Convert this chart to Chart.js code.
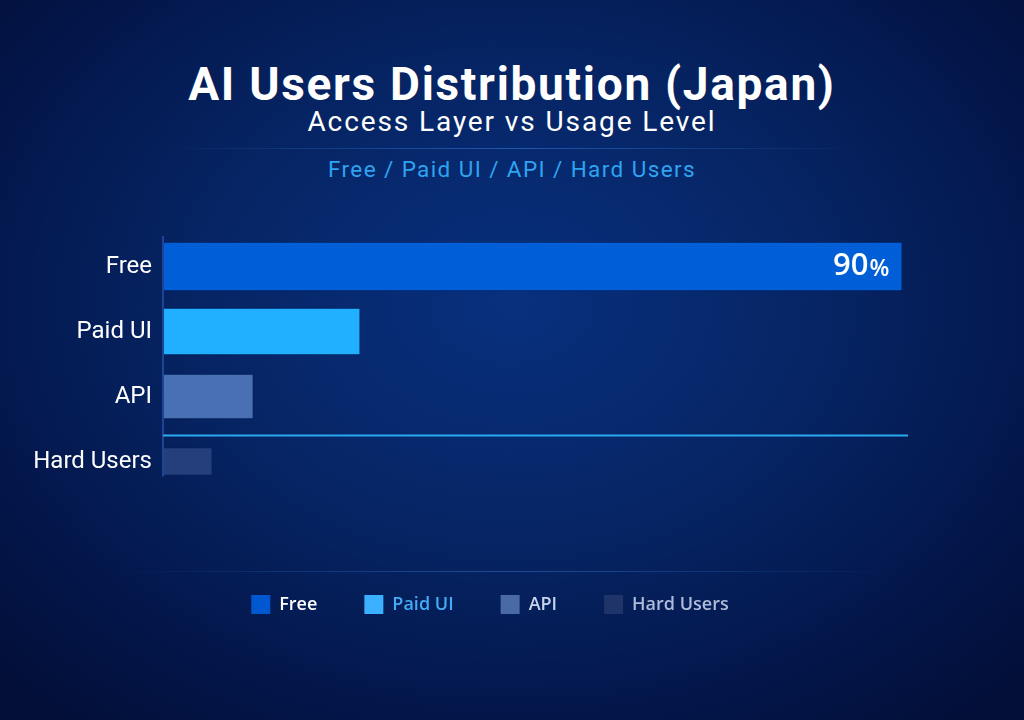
<!DOCTYPE html>
<html>
<head>
<meta charset="utf-8">
<script src="https://cdn.jsdelivr.net/npm/chart.js@4.4.1/dist/chart.umd.min.js"></script>
<style>
  html, body { margin: 0; padding: 0; }
  body {
    width: 1024px; height: 720px; overflow: hidden; position: relative;
    background: radial-gradient(ellipse 70% 75% at 50% 42%, #08307e 0%, #062463 45%, #03164a 78%, #020e37 100%);
    font-family: Roboto, "Noto Sans", sans-serif;
  }
  .hdr { position: absolute; left: 0; width: 1024px; text-align: center; white-space: nowrap; }
  #title { top: 58px; font-size: 46px; font-weight: 700; color: #fff; line-height: 52px; letter-spacing: 1.7px; }
  #sub { top: 106px; font-size: 28px; color: #fff; line-height: 32px; letter-spacing: 1.9px; }
  #tag { top: 155px; font-size: 22.5px; color: #2ea4f0; line-height: 28px; letter-spacing: 1.4px; }
  .sep { position: absolute; height: 1px; }
  #sep1 { top: 148px; left: 160px; width: 704px; background: linear-gradient(90deg, rgba(40,110,200,0), rgba(50,130,220,0.55), rgba(40,110,200,0)); }
  #sep2 { top: 571px; left: 110px; width: 790px; background: linear-gradient(90deg, rgba(40,110,200,0), rgba(50,130,220,0.45), rgba(40,110,200,0)); }
  canvas { position: absolute; left: 0; top: 0; }
</style>
</head>
<body>
<div class="hdr" id="title">AI Users Distribution (Japan)</div>
<div class="hdr" id="sub">Access Layer vs Usage Level</div>
<div class="sep" id="sep1"></div>
<div class="hdr" id="tag">Free / Paid UI / API / Hard Users</div>
<div class="sep" id="sep2"></div>
<canvas id="grafico" width="1024" height="720"></canvas>
<script>
const categorias = ['Free', 'Paid UI', 'API', 'Hard Users'];
const participacao = [90, 24, 11, 6];
const coresBarra = ['#005ed6', '#20b0ff', '#4870b2', '#243f7c'];
const coresLegenda = ['#0058d0', '#3ab0ff', '#4a6aa6', '#1f3468'];
const coresTextoLegenda = ['#ffffff', '#45aaf5', '#c8d4ee', '#aebbd9'];
const espessuras = [49, 47, 45, 28];

// linha separando "Hard Users", eixo vertical e rótulo 90%
const extras = {
  id: 'extras',
  afterLayout(chart) {
    // legenda um pouco à direita, como no original
    chart.legend.left += 36;
    chart.legend.right += 36;
  },
  afterDatasetsDraw(chart) {
    const { ctx, chartArea } = chart;
    const api = chart.getDatasetMeta(2).data[2];
    const hard = chart.getDatasetMeta(3).data[3];
    const free = chart.getDatasetMeta(0).data[0];
    ctx.save();
    // eixo
    ctx.strokeStyle = '#1c4597';
    ctx.lineWidth = 2;
    ctx.beginPath();
    ctx.moveTo(chartArea.left, chartArea.top + 2);
    ctx.lineTo(chartArea.left, hard.y + hard.height / 2 + 1);
    ctx.stroke();
    // separador
    const ySep = Math.round(((api.y + api.height / 2) + (hard.y - hard.height / 2)) / 2) + 2.5;
    ctx.strokeStyle = '#2aa8f0';
    ctx.lineWidth = 2;
    ctx.beginPath();
    ctx.moveTo(chartArea.left, ySep);
    ctx.lineTo(chartArea.right, ySep);
    ctx.stroke();
    // rótulo
    ctx.fillStyle = '#ffffff';
    ctx.textBaseline = 'middle';
    ctx.textAlign = 'right';
    const xFim = free.x - 13;
    ctx.font = '600 23px "Open Sans"';
    const wPct = ctx.measureText('%').width;
    ctx.fillText('%', xFim, free.y + 3);
    ctx.font = '600 31px "Open Sans"';
    ctx.fillText(String(participacao[0]), xFim - wPct - 1, free.y);
    ctx.restore();
  }
};

const datasets = categorias.map((nome, i) => ({
  label: nome,
  data: categorias.map((c, j) => (j === i ? participacao[i] : null)),
  backgroundColor: coresBarra[i],
  borderColor: 'rgba(0, 30, 90, 0.5)',
  borderWidth: 1,
  borderSkipped: false,
  barThickness: espessuras[i]
}));

new Chart(document.getElementById('grafico'), {
  type: 'bar',
  data: { labels: categorias, datasets },
  options: {
    indexAxis: 'y',
    responsive: false,
    animation: false,
    layout: { padding: { left: 0, right: 116, top: 234, bottom: 96 } },
    scales: {
      x: {
        stacked: true,
        min: 0,
        max: 90.7,
        grid: { display: false },
        border: { display: false },
        ticks: { display: false },
        afterFit(scale) { scale.height = 54; }
      },
      y: {
        stacked: true,
        grid: { display: false, drawTicks: false },
        border: { display: false },
        ticks: {
          color: '#ffffff',
          padding: 11,
          font: { family: 'Roboto', size: 24 }
        },
        afterFit(scale) { scale.width = 163; }
      }
    },
    plugins: {
      title: { display: false },
      tooltip: { enabled: false },
      legend: {
        position: 'bottom',
        labels: {
          boxWidth: 19,
          boxHeight: 19,
          padding: 47,
          font: { family: 'Open Sans', size: 18, weight: '600' },
          generateLabels: () => categorias.map((nome, i) => ({
            text: nome,
            fillStyle: coresLegenda[i],
            strokeStyle: coresLegenda[i],
            lineWidth: 0,
            fontColor: coresTextoLegenda[i],
            hidden: false,
            datasetIndex: i
          }))
        }
      }
    }
  },
  plugins: [extras]
});
</script>
</body>
</html>
